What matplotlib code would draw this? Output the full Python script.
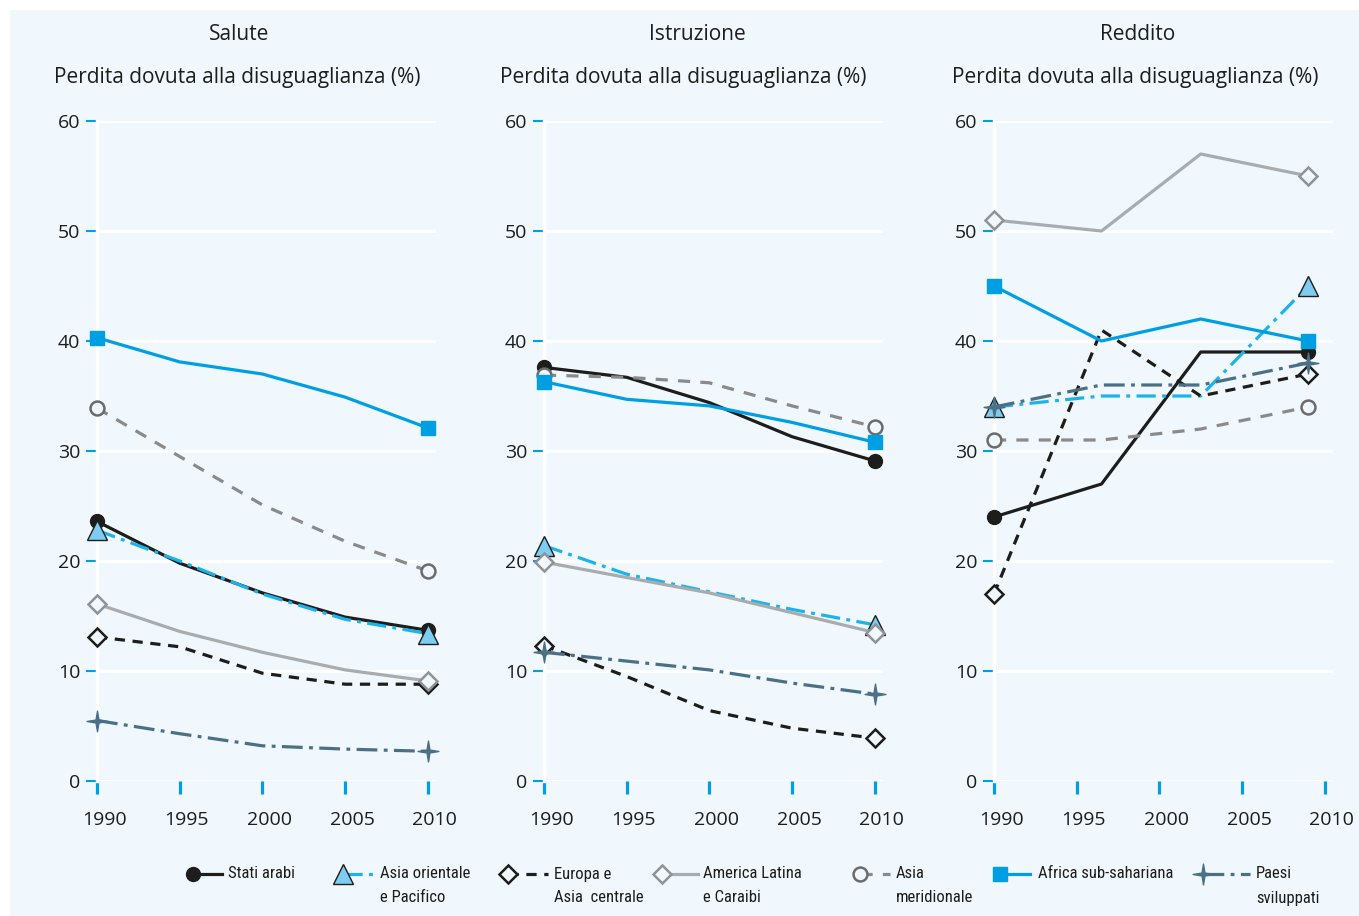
"""Perdita dovuta alla disuguaglianza: salute, istruzione, reddito,
sette regioni, tre pannelli su fondo azzurro."""

import numpy as np
import matplotlib

matplotlib.use("Agg")
import matplotlib.pyplot as plt
from matplotlib import font_manager
from matplotlib.lines import Line2D
from matplotlib.patches import Rectangle
from matplotlib.path import Path
from matplotlib.transforms import ScaledTranslation

SERIES = ["Stati arabi", "Asia orientale e Pacifico", "Europa e Asia  centrale",
          "America Latina e Caraibi", "Asia meridionale", "Africa sub-sahariana",
          "Paesi sviluppati"]
LEGEND_LINES = [("Stati arabi", ""), ("Asia orientale", "e Pacifico"),
                ("Europa e", "Asia  centrale"), ("America Latina", "e Caraibi"),
                ("Asia", "meridionale"), ("Africa sub-sahariana", ""),
                ("Paesi", "sviluppati")]
PANELS = ["Salute", "Istruzione", "Reddito"]

YEARS = [1990, 1995, 2000, 2005, 2010]
YEARS_REDDITO = [1990, 1996.5, 2002.5, 2009]

# one row per series, same order as SERIES
SALUTE = [
    [23.6, 19.8, 17.1, 14.9, 13.7],
    [22.8, 20.0, 17.0, 14.7, 13.4],
    [13.1, 12.2, 9.8, 8.8, 8.8],
    [16.1, 13.6, 11.7, 10.1, 9.1],
    [33.9, 29.5, 25.1, 21.8, 19.1],
    [40.3, 38.1, 37.0, 34.9, 32.1],
    [5.5, 4.3, 3.2, 2.9, 2.7],
]
ISTRUZIONE = [
    [37.6, 36.7, 34.4, 31.3, 29.1],
    [21.4, 18.8, 17.2, 15.6, 14.2],
    [12.3, 9.5, 6.4, 4.8, 3.9],
    [19.9, 18.5, 17.1, 15.3, 13.5],
    [36.9, 36.7, 36.2, 34.1, 32.2],
    [36.3, 34.7, 34.1, 32.6, 30.8],
    [11.7, 10.9, 10.1, 8.9, 7.9],
]
REDDITO = [
    [24, 27, 39, 39],
    [34, 35, 35, 45],
    [17, 41, 35, 37],
    [51, 50, 57, 55],
    [31, 31, 32, 34],
    [45, 40, 42, 40],
    [34, 36, 36, 38],
]

BG = "#f0f7fd"
TICK_BLUE = "#009fe3"
TEXT = "#1d1d1b"

# a thin four-point star for the developed countries
_ang = np.deg2rad(np.arange(0, 360, 45) + 90)
_rad = np.where(np.arange(8) % 2 == 0, 1.0, 0.2)
STAR4 = Path(np.column_stack([_rad * np.cos(_ang), _rad * np.sin(_ang)]).tolist()
             + [[0.0, 1.0]], closed=True)

LINES = [
    dict(color="#1d1d1b", ls="-"),
    dict(color="#1ab4ea", ls=(0, (6, 2, 1.2, 2))),
    dict(color="#1d1d1b", ls=(0, (3.2, 2.4))),
    dict(color="#a8acae", ls="-"),
    dict(color="#8a8a8a", ls=(0, (3.8, 3.2))),
    dict(color="#009fe3", ls="-"),
    dict(color="#4a7086", ls=(0, (6.5, 2, 1.2, 2))),
]
MARKERS = [
    dict(marker="o", ms=10, mfc="#1d1d1b", mec="#1d1d1b"),
    dict(marker="^", ms=15, mfc="#7ccdf1", mec="#1d1d1b", mew=1.0),
    dict(marker="D", ms=9.5, mfc=BG, mec="#1d1d1b", mew=1.8),
    dict(marker="D", ms=9.5, mfc=BG, mec="#8f9396", mew=1.8),
    dict(marker="o", ms=10, mfc=BG, mec="#6b6b6b", mew=1.8),
    dict(marker="s", ms=10.5, mfc="#009fe3", mec="#009fe3"),
    dict(marker=STAR4, ms=15, mfc="#4a7086", mec="#4a7086"),
]

W, H = 1359, 916
AX_LEFT = [97, 544, 994]          # pixel x of 1990 in each panel
AX_TOP, AX_BOTTOM = 121, 781      # pixel y of 60 and 0
AX_WIDTH = 339
TITLE_X = [239, 697, 1138]
YLABEL_X = [237, 683, 1135]
# marker centre, line end, text start (pixels) for each legend entry
LEGEND_X = [(193, 222, 228), (343, 375, 380), (508, 548, 554), (662, 698, 703),
            (860, 890, 896), (1000, 1030, 1038), (1203, 1250, 1256)]
LEGEND_Y = [874, 896]

_have = {f.name for f in font_manager.fontManager.ttflist}
FONT = [f for f in ("Open Sans", "Noto Sans") if f in _have] + ["DejaVu Sans"]
NARROW = [f for f in ("Liberation Sans Narrow", "Roboto Condensed",
                      "Open Sans Condensed", "Noto Sans Condensed",
                      "DejaVu Sans Condensed", "Roboto") if f in _have][:1] \
    + ["DejaVu Sans"]
NARROW_SIZE = 12 if "Narrow" in NARROW[0] or "Condensed" in NARROW[0] else 11


def draw_panel(fig, ax, years, rows, idx):
    for values, line, mark in zip(rows, LINES, MARKERS):
        ax.plot(years, values, lw=2.3, markevery=[0, -1], clip_on=False,
                zorder=3, dash_capstyle="butt", **line, **mark)
    ax.set_xlim(1990, 2010.5)
    ax.set_ylim(0, 60)
    ax.set_facecolor(BG)
    ax.set_yticks(range(0, 61, 10))
    ax.set_xticks(YEARS)
    ax.grid(axis="y", color="white", lw=2.2)
    ax.set_axisbelow(True)
    for side in ("top", "right", "bottom"):
        ax.spines[side].set_visible(False)
    ax.spines["left"].set_color("white")
    ax.spines["left"].set_linewidth(2.5)
    ax.tick_params(axis="y", length=8, width=1.5, color=TICK_BLUE, pad=4,
                   labelsize=14, labelcolor=TEXT)
    ax.tick_params(axis="x", length=9, width=2.3, color=TICK_BLUE, pad=12.5,
                   labelsize=14, labelcolor=TEXT)
    for lab in ax.get_xticklabels():
        lab.set_fontfamily(FONT)
        lab.set_transform(lab.get_transform()
                          + ScaledTranslation(7 / 100, 0, fig.dpi_scale_trans))
    for lab in ax.get_yticklabels():
        lab.set_fontfamily(FONT)
    fig.text(TITLE_X[idx] / W, 1 - 35 / H, PANELS[idx], ha="center", va="center",
             fontsize=15, color=TEXT, family=FONT)
    fig.text(YLABEL_X[idx] / W, 1 - 77 / H,
             "Perdita dovuta alla disuguaglianza (%)", ha="center", va="center",
             fontsize=15, color=TEXT, family=FONT)


def draw_legend(fig):
    """Legend keys by hand: marker at the left end of a short line,
    first text line level with the key, second line beneath."""
    y0 = 1 - LEGEND_Y[0] / H
    y1 = 1 - LEGEND_Y[1] / H
    for (mx, lx, tx), (first, second), line, mark in zip(
            LEGEND_X, LEGEND_LINES, LINES, MARKERS):
        fig.add_artist(Line2D([mx / W, lx / W], [y0, y0], lw=2.3,
                              transform=fig.transFigure,
                              dash_capstyle="butt", **line))
        fig.add_artist(Line2D([mx / W], [y0], ls="none",
                              transform=fig.transFigure, **mark))
        fig.text(tx / W, y0, first, ha="left", va="center", fontsize=NARROW_SIZE,
                 color=TEXT, family=NARROW)
        if second:
            fig.text(tx / W, y1 - 2 / H, second, ha="left", va="center",
                     fontsize=NARROW_SIZE, color=TEXT, family=NARROW)


fig = plt.figure(figsize=(W / 100, H / 100), dpi=100)
fig.patches.append(Rectangle((10 / W, 0), 1, 1 - 10 / H, transform=fig.transFigure,
                             facecolor=BG, edgecolor="none", zorder=-10))

for i, (years, rows) in enumerate(zip([YEARS, YEARS, YEARS_REDDITO],
                                      [SALUTE, ISTRUZIONE, REDDITO])):
    ax = fig.add_axes([AX_LEFT[i] / W, 1 - AX_BOTTOM / H, AX_WIDTH / W,
                       (AX_BOTTOM - AX_TOP) / H])
    draw_panel(fig, ax, years, rows, i)

draw_legend(fig)
fig.savefig("out.png", dpi=100)
